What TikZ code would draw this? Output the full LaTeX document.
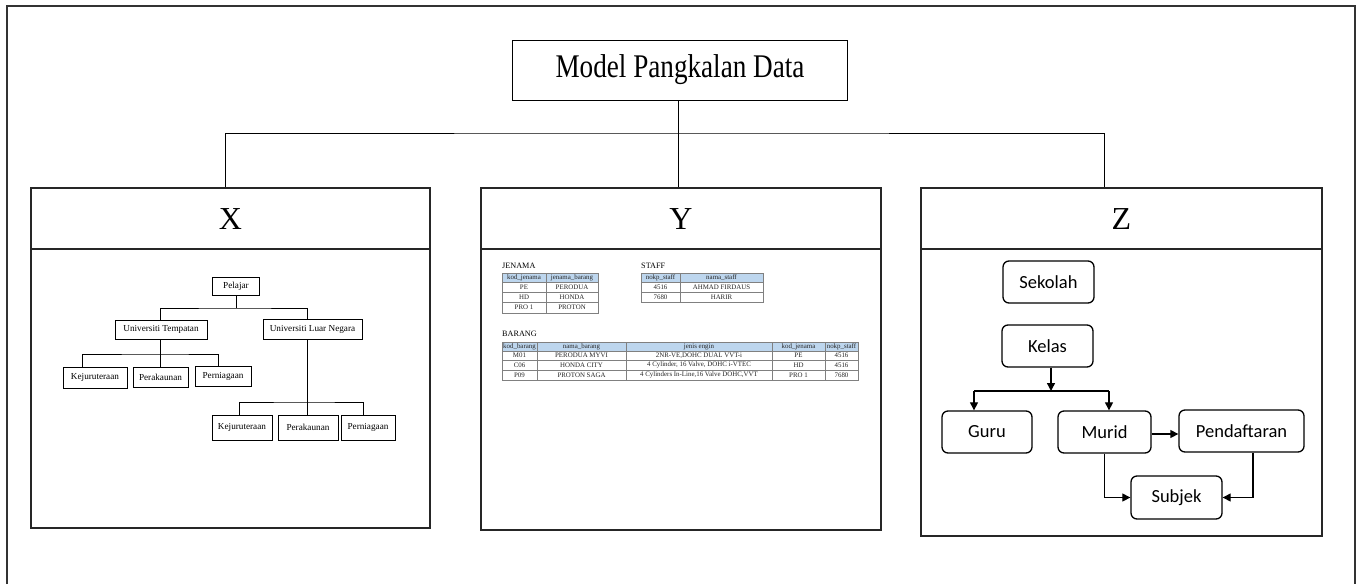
\documentclass[tikz,border=0pt]{standalone}
\usepackage{fontspec}
\setmainfont{Liberation Serif}
\newfontfamily\calib{Carlito}
\usetikzlibrary{arrows.meta,calc}
\definecolor{hdrblue}{RGB}{189,214,238}
\definecolor{gridgray}{RGB}{128,128,128}
\tikzset{
  panel/.style={draw=black!85,line width=1.2pt,inner sep=0pt},
  link/.style={draw=black,line width=0.9pt},
  treebox/.style={draw=black,line width=0.8pt,inner sep=0pt,font=\fontsize{9.2}{10}\selectfont},
  zbox/.style={draw=black,line width=1.3pt,rounded corners=6pt,inner sep=0pt,font=\calib\fontsize{18.5}{20}\selectfont},
  zarr/.style={draw=black,line width=1.3pt,-{Triangle[length=8pt,width=8pt]}},
  cell/.style={inner sep=0pt,text=black!85,font=\fontsize{6.9}{7}\selectfont},
  tlabel/.style={inner sep=0pt,anchor=west,font=\fontsize{8.2}{9}\selectfont},
  grid/.style={draw=gridgray,line width=0.6pt},
  head/.style={inner sep=0pt,font=\fontsize{32}{36}\selectfont}
}
\begin{document}
\begin{tikzpicture}[x=1pt,y=-1pt]
\useasboundingbox (0,0) rectangle (1360,584);
% outer frame
\draw[draw=black!80,line width=1.3pt] (7,584) -- (7,6) -- (1355,6) -- (1355,584);

% title and the three panels
\node[draw=black,line width=1pt,minimum width=335pt,minimum height=60pt,inner sep=0pt,
      font=\fontsize{28}{32}\selectfont] (top) at (680,70) {\scalebox{0.97}[1.18]{Model Pangkalan Data}};
\node[panel,minimum width=399pt,minimum height=340pt] (Xp) at (230.5,358) {};
\node[panel,minimum width=400pt,minimum height=342pt] (Yp) at (681,359) {};
\node[panel,minimum width=401pt,minimum height=348pt] (Zp) at (1121.5,362) {};
\draw[panel] (Xp.west |- 0,249) -- (Xp.east |- 0,249);
\draw[panel] (Yp.west |- 0,249) -- (Yp.east |- 0,249);
\draw[panel] (Zp.west |- 0,249) -- (Zp.east |- 0,249);
\node[head] (Xh) at (230.5,219) {X};
\node[head] (Yh) at (681,219) {Y};
\node[head] (Zh) at (1121.5,219) {Z};

% top-level links
\coordinate (bus) at (678,133);
\draw[link] (top.south -| bus) -- (Yp.north -| bus);
\draw[link] ([xshift=-5.5pt]Xp.north) |- (bus) -| ([xshift=-17.5pt]Zp.north);

% ---------- X : hierarchical model ----------
\node[treebox,minimum width=47pt,minimum height=18pt] (pel) at (236,286) {Pelajar};
\node[treebox,minimum width=92pt,minimum height=19pt] (ut) at (161,329.5) {Universiti Tempatan};
\node[treebox,minimum width=99pt,minimum height=20pt] (uln) at (312.5,329.5) {Universiti Luar Negara};
\node[treebox,minimum width=64pt,minimum height=21pt] (kej1) at (95,377.5) {Kejuruteraan};
\node[treebox,minimum width=55pt,minimum height=20pt] (per1) at (160.5,377) {Perakaunan};
\node[treebox,minimum width=56pt,minimum height=20pt] (pern1) at (223,376.5) {Perniagaan};
\node[treebox,minimum width=60pt,minimum height=25pt] (kej2) at (242,427.5) {Kejuruteraan};
\node[treebox,minimum width=60pt,minimum height=25pt] (per2) at (308,427.5) {Perakaunan};
\node[treebox,minimum width=54pt,minimum height=25pt] (pern2) at (368,427.5) {Perniagaan};

\coordinate (b0) at (236,308);
\draw[link,line width=0.8pt] (pel.south) -- (b0);
\draw[link,line width=0.8pt] ([xshift=-1pt]ut.north) |- (b0) -| ([xshift=-5.5pt]uln.north);
\coordinate (b1) at (160,354);
\draw[link,line width=0.8pt] (ut.south -| b1) -- (b1);
\draw[link,line width=0.8pt] ([xshift=-13pt]kej1.north) |- (b1) -| ([xshift=-5pt]pern1.north);
\draw[link,line width=0.8pt] (per1.north -| b1) -- (b1);
\coordinate (b2) at (307,402);
\draw[link,line width=0.8pt] (uln.south -| b2) -- (b2);
\draw[link,line width=0.8pt] ([xshift=-3pt]kej2.north) |- (b2) -| ([xshift=-5pt]pern2.north);
\draw[link,line width=0.8pt] (per2.north -| b2) -- (b2);

% ---------- Y : relational tables ----------
\node[tlabel] (lj) at (502,266) {JENAMA};
\node[tlabel] (ls) at (641,266) {STAFF};
\node[tlabel] (lb) at (502,334) {BARANG};

% JENAMA
\fill[hdrblue] (502,273) rectangle (598,282);
\draw[grid] (502,273) rectangle (598,313);
\foreach \yy in {282,292,302} \draw[grid] (502,\yy) -- (598,\yy);
\draw[grid] (546,273) -- (546,313);
\node[cell] at (524,277.5) {kod\_jenama};
\node[cell] at (572,277.5) {jenama\_barang};
\foreach \yy/\a/\b in {287/PE/PERODUA,297/HD/HONDA,307.5/PRO 1/PROTON}{
  \node[cell] at (524,\yy) {\a};
  \node[cell] at (572,\yy) {\b};
}

% STAFF
\fill[hdrblue] (641,273) rectangle (763,282);
\draw[grid] (641,273) rectangle (763,302);
\foreach \yy in {282,292} \draw[grid] (641,\yy) -- (763,\yy);
\draw[grid] (680,273) -- (680,302);
\node[cell] at (660.5,277.5) {nokp\_staff};
\node[cell] at (721.5,277.5) {nama\_staff};
\node[cell] at (660.5,287) {4516};
\node[cell] at (721.5,287) {AHMAD FIRDAUS};
\node[cell] at (660.5,297) {7680};
\node[cell] at (721.5,297) {HARIR};

% BARANG
\fill[hdrblue] (502,342) rectangle (858,351);
\draw[grid] (502,342) rectangle (858,380);
\foreach \yy in {351,360,370} \draw[grid] (502,\yy) -- (858,\yy);
\foreach \xx in {537,626,772,825} \draw[grid] (\xx,342) -- (\xx,380);
\node[cell] at (519.5,346.5) {kod\_barang};
\node[cell] at (581.5,346.5) {nama\_barang};
\node[cell] at (699,346.5) {jenis engin};
\node[cell] at (798.5,346.5) {kod\_jenama};
\node[cell] at (841.5,346.5) {nokp\_staff};
\node[cell] at (519.5,355.5) {M01};
\node[cell] at (581.5,355.5) {PERODUA MYVI};
\node[cell] at (699,355.5) {2NR-VE,DOHC DUAL VVT-i};
\node[cell] at (798.5,355.5) {PE};
\node[cell] at (841.5,355.5) {4516};
\node[cell] at (519.5,365) {C06};
\node[cell] at (581.5,365) {HONDA CITY};
\node[cell] at (699,365) {4 Cylinder, 16 Valve, DOHC i-VTEC};
\node[cell] at (798.5,365) {HD};
\node[cell] at (841.5,365) {4516};
\node[cell] at (519.5,375) {P09};
\node[cell] at (581.5,375) {PROTON SAGA};
\node[cell] at (699,375) {4 Cylinders In-Line,16 Valve DOHC,VVT};
\node[cell] at (798.5,375) {PRO 1};
\node[cell] at (841.5,375) {7680};

% ---------- Z : network model ----------
\node[zbox,minimum width=91pt,minimum height=42pt] (sek) at (1048.5,282) {Sekolah};
\node[zbox,minimum width=91pt,minimum height=42pt] (kel) at (1047.5,346) {Kelas};
\node[zbox,minimum width=90pt,minimum height=42pt] (guru) at (987,432) {Guru};
\node[zbox,minimum width=93pt,minimum height=42pt] (mur) at (1104.5,432) {Murid};
\node[zbox,minimum width=125pt,minimum height=42pt] (pend) at (1241.5,431) {Pendaftaran};
\node[zbox,minimum width=91pt,minimum height=43pt] (sub) at (1176.5,497.5) {Subjek};

\coordinate (kb) at (1051,391);
\draw[zarr] (kel.south -| kb) -- (kb);
\draw[draw=black,line width=1.1pt] (974,391) -- (1109,391);
\draw[zarr,line width=1.1pt] (974,391) -- (guru.north -| 974,0);
\draw[zarr,line width=1.1pt] (1109,391) -- (mur.north -| 1109,0);
\draw[zarr] (mur.east |- 0,434) -- (pend.west |- 0,434);
\draw[zarr,line width=1.1pt] (mur.south) |- (sub.west);
\draw[zarr,line width=1.1pt] ([xshift=11.5pt]pend.south) |- (sub.east);
\end{tikzpicture}
\end{document}
